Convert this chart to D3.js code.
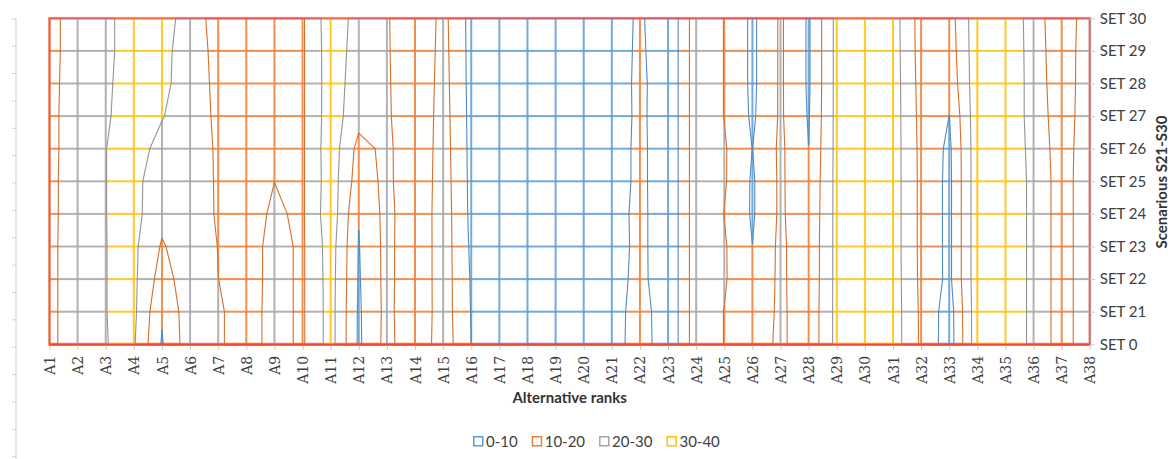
<!DOCTYPE html>
<html>
<head>
<meta charset="utf-8">
<script src="https://cdn.jsdelivr.net/npm/d3@7"></script>
<style>
  body { margin: 0; background: #fff; }
  svg { display: block; }
</style>
</head>
<body>
<div id="chart"></div>
<script>
// alternatives (x) and scenarios (y)
const alternatives = ["A1","A2","A3","A4","A5","A6","A7","A8","A9","A10","A11","A12","A13","A14","A15","A16","A17","A18","A19",
  "A20","A21","A22","A23","A24","A25","A26","A27","A28","A29","A30","A31","A32","A33","A34","A35","A36","A37","A38"];
const scenarios = ["SET 0","SET 21","SET 22","SET 23","SET 24","SET 25","SET 26","SET 27","SET 28","SET 29","SET 30"];
const bands = ["0-10","10-20","20-30","30-40"];
const levels = [10, 20, 30];

// rank of each alternative, one array per scenario
const set0  = [17.5,26,29.9,31,9.2,26,20.85,17,22.4,18.8,34,8.5,23.2,12,25.6,10.05,5,3,6,2,4,16.8,1,26,19.8,14,22.3,12.5,33,35,35.2,18.5,4.7,36.5,37.5,27.5,15.4,26.6];
const set21 = [17.5,26,29.9,32,11,26,20.85,17,22.4,18.8,34,8.7,22.8,12,25.1,9.6,5,3,6,2,3.9,16.3,1,26,19.8,12,22.3,12.5,33,35,35.2,18.3,5,36.5,37.5,27.5,15.4,26.6];
const set22 = [17.5,26,29.9,32,15.6,26,20.05,16.7,22.4,18.8,34.2,9.2,23,12,25.2,9.2,5,3,6,2,4.9,13.7,1,26,21,11,22.2,12,33,35,35.1,17.8,7.6,36.5,37.5,27.5,15.4,26.6];
const set23 = [17.5,26,29.9,32,19,26,19.8,16.7,22.4,18.8,34.6,9.6,23,12,25.2,8.5,5,3,6,2,4,13.5,1,26,21,10.1,22.2,12,33,35,35,17.6,7.6,36.5,37.5,27.5,15.4,26.6];
const set24 = [17.5,25.5,29.9,33,23,26,18.9,17.3,21,18.8,36.4,10.4,23.2,12,25.3,7.8,5,3,6,2,4.5,13.5,1,26,19.8,8.9,21.7,11.5,33,35,35,17.6,7.6,36.5,37.5,27.5,15.4,26.6];
const set25 = [17.5,25.5,29.9,33,23.6,26,18.8,17.3,19.97,18.8,35.6,14.8,22.4,12,24.9,7.6,5,3,6,2,3,13.3,1,26,21,8.9,21.7,11,33,35,35,17.6,7.6,36.5,37.5,27.5,15.4,26.6];
const set26 = [17.5,25,29.9,33,27.7,26,18.6,17.5,19.4,18.8,36,16.8,22.3,12,24.5,7.4,5,3,6,2,3,13.3,1,26,21,9.9,21.8,10.1,33,35,35,17.5,8,36.5,37.3,27,14.9,26.8];
const set27 = [17.5,25,29.3,33,30.4,26,17.9,17.5,18.8,18.8,35.3,23.5,21.5,12,24.1,7.2,5,3,6,2,2.5,13,1,26,19.8,8.5,21.3,9.3,33,35,35,17,9.95,36.5,37,26.5,14,26.8];
const set28 = [17.5,24.5,29,33,31.9,26,17.3,17.5,18.6,18.8,35.2,25,21.3,11.8,23.7,7,5,3,6,2,2.5,13.2,1,26,19.8,8,21.3,8.8,33,35,35,16.5,13,36.5,37,26.5,12.7,27.5];
const set29 = [17.5,24,28.6,33,32.3,26,16.6,17.5,18.5,18.8,35.3,26,21.1,11.5,23.3,6.9,5,3,6,2,3.5,12.4,1,26,19.8,8,21.3,8.8,33,35,34.8,16,14.5,36.5,37,26.3,12,28];
const set30 = [17.5,24,28.6,33,33.8,26,15.2,17.5,18.5,18.8,35.9,26.5,21,11.3,22.9,6.8,5,3,6,2,4.3,11.8,1,26,19.8,8,21.3,8.8,33,35,34.7,15.8,15.5,36.5,37,26,11,28];
const rankValues = [set0, set21, set22, set23, set24, set25, set26, set27, set28, set29, set30];

const width = 1173, height = 459;
const plot = { left: 49.5, right: 1089.8, top: 18.3, bottom: 344.3 };
const bandColor = ["#5B9BD5", "#ED7D31", "#A5A5A5", "#FFC000"];
const sans = "Lato, 'Liberation Sans', sans-serif";

const svg = d3.select("#chart").append("svg")
  .attr("width", width)
  .attr("height", height);

const x = d3.scalePoint().domain(alternatives).range([plot.left, plot.right]);
const y = d3.scalePoint().domain(scenarios).range([plot.bottom, plot.top]);

const px = c => x(alternatives[c]);
const py = r => y(scenarios[r]);
const bandOf = v => Math.max(0, Math.min(3, Math.floor(v / 10)));

// wireframe: every grid edge split where it crosses a band limit
let pieces = [];
function addEdge(x1, y1, v1, x2, y2, v2, bottomRow) {
  let cuts = levels.filter(L => L > Math.min(v1, v2) && L < Math.max(v1, v2))
    .map(L => (L - v1) / (v2 - v1)).sort((a, b) => a - b);
  let ts = [0, ...cuts, 1];
  for (let i = 0; i < ts.length - 1; i++) {
    let t0 = ts[i], t1 = ts[i + 1];
    let vm = v1 + (v2 - v1) * (t0 + t1) / 2;
    pieces.push({
      x1: x1 + (x2 - x1) * t0, y1: y1 + (y2 - y1) * t0,
      x2: x1 + (x2 - x1) * t1, y2: y1 + (y2 - y1) * t1,
      band: bandOf(vm), bottom: bottomRow
    });
  }
}

const nR = scenarios.length, nC = alternatives.length;
for (let r = 0; r < nR; r++) {
  for (let c = 0; c < nC - 1; c++) {
    addEdge(px(c), py(r), rankValues[r][c], px(c + 1), py(r), rankValues[r][c + 1], r === 0);
  }
}
for (let c = 0; c < nC; c++) {
  for (let r = 0; r < nR - 1; r++) {
    addEdge(px(c), py(r), rankValues[r][c], px(c), py(r + 1), rankValues[r + 1][c], false);
  }
}

// contour lines (marching squares), coloured with the band below the level
let segs = [];
for (let r = 0; r < nR - 1; r++) {
  for (let c = 0; c < nC - 1; c++) {
    let k = [[c, r], [c + 1, r], [c + 1, r + 1], [c, r + 1]];
    let v = k.map(d => rankValues[d[1]][d[0]]);
    levels.forEach((L, li) => {
      let pts = [];
      for (let e = 0; e < 4; e++) {
        let a = e, b = (e + 1) % 4;
        if ((v[a] >= L) !== (v[b] >= L)) {
          let t = (L - v[a]) / (v[b] - v[a]);
          let xa = px(k[a][0]), ya = py(k[a][1]), xb = px(k[b][0]), yb = py(k[b][1]);
          pts[e] = [xa + (xb - xa) * t, ya + (yb - ya) * t];
        }
      }
      let edges = d3.range(4).filter(e => pts[e]);
      let pairs = [];
      if (edges.length === 2) pairs.push(edges);
      else if (edges.length === 4) {
        let centre = d3.mean(v);
        if ((centre >= L) === (v[0] >= L)) pairs.push([0, 1], [2, 3]);
        else pairs.push([3, 0], [1, 2]);
      }
      pairs.forEach(p => segs.push({ a: pts[p[0]], b: pts[p[1]], band: li }));
    });
  }
}

// empty depth axis on the far left
const depth = d3.scaleLinear().domain([0, 16]).range([456.2, 18.3]);
const depthG = svg.append("g").attr("transform", "translate(16,0)")
  .call(d3.axisLeft(depth).ticks(16).tickSize(4).tickFormat(""));
depthG.select(".domain").remove();
depthG.selectAll("line").attr("stroke", "#d0d0d0");
svg.append("line").attr("x1", 16).attr("x2", 16).attr("y1", 18).attr("y2", 459)
  .attr("stroke", "#d0d0d0");

// frame halo
svg.append("rect")
  .attr("x", plot.left).attr("y", plot.top)
  .attr("width", plot.right - plot.left).attr("height", plot.bottom - plot.top)
  .attr("fill", "none").attr("stroke", "#f7b4b4").attr("stroke-width", 3);

const grid = svg.append("g");
grid.selectAll("line")
  .data(pieces)
  .join("line")
  .attr("x1", d => d.x1).attr("y1", d => d.y1)
  .attr("x2", d => d.x2).attr("y2", d => d.y2)
  .attr("stroke", d => bandColor[d.band])
  .attr("stroke-width", d => d.bottom ? 3 : 2)
  .attr("stroke-opacity", 0.85);

const cont = svg.append("g");
cont.selectAll("line")
  .data(segs)
  .join("line")
  .attr("x1", d => d.a[0]).attr("y1", d => d.a[1])
  .attr("x2", d => d.b[0]).attr("y2", d => d.b[1])
  .attr("stroke", d => d3.color(bandColor[d.band]).darker(0.3))
  .attr("stroke-width", 1.1)
  .attr("stroke-linecap", "round");

// frame
svg.append("rect")
  .attr("x", plot.left).attr("y", plot.top)
  .attr("width", plot.right - plot.left).attr("height", plot.bottom - plot.top)
  .attr("fill", "none").attr("stroke", "#ea4a4a").attr("stroke-width", 1.2)
  .attr("stroke-opacity", 0.8);
svg.append("line")
  .attr("x1", plot.left).attr("x2", plot.right)
  .attr("y1", plot.bottom + 0.5).attr("y2", plot.bottom + 0.5)
  .attr("stroke", "#ff3a1a").attr("stroke-width", 2).attr("stroke-opacity", 0.7);

// x axis
const xAxisG = svg.append("g")
  .attr("transform", `translate(0,${plot.bottom + 1.5})`)
  .call(d3.axisBottom(x).tickSize(4).tickSizeOuter(0));
xAxisG.select(".domain").remove();
xAxisG.selectAll("line").attr("stroke", "#c8c8c8");
xAxisG.selectAll("text")
  .attr("transform", "rotate(-90)")
  .attr("text-anchor", "end")
  .attr("x", -10).attr("y", 0).attr("dy", "0.36em")
  .attr("font-family", "'DejaVu Serif', 'Liberation Serif', serif")
  .attr("font-size", "14px")
  .attr("fill", "#404040");

// y axis on the right
const yAxisG = svg.append("g")
  .attr("transform", `translate(${plot.right},0)`)
  .call(d3.axisRight(y).tickSize(5).tickPadding(5).tickSizeOuter(0));
yAxisG.select(".domain").remove();
yAxisG.selectAll("line").attr("stroke", "#c8c8c8");
yAxisG.selectAll("text")
  .attr("font-family", sans)
  .attr("font-size", "15px")
  .attr("fill", "#404040");

// titles
svg.append("text")
  .attr("x", (plot.left + plot.right) / 2).attr("y", 403)
  .attr("text-anchor", "middle")
  .attr("font-family", sans).attr("font-weight", "bold").attr("font-size", "15px")
  .attr("fill", "#333")
  .text("Alternative ranks");

svg.append("text")
  .attr("transform", `translate(1167,182) rotate(-90)`)
  .attr("text-anchor", "middle")
  .attr("font-family", sans).attr("font-weight", "bold").attr("font-size", "15px")
  .attr("fill", "#333")
  .text("Scenarious S21-S30");

// legend
const legend = svg.append("g").attr("transform", "translate(473,436)");
let lx = 0;
bands.forEach((b, i) => {
  let g = legend.append("g").attr("transform", `translate(${lx},0)`);
  g.append("rect")
    .attr("x", 0.75).attr("y", 0.75).attr("width", 9).attr("height", 9)
    .attr("fill", "#fff").attr("stroke", bandColor[i]).attr("stroke-width", 1.5);
  let t = g.append("text")
    .attr("x", 13).attr("y", 10.5)
    .attr("font-family", sans).attr("font-size", "15px")
    .attr("fill", "#404040")
    .text(b);
  lx += 13 + t.node().getComputedTextLength() + 14;
});
</script>
</body>
</html>
